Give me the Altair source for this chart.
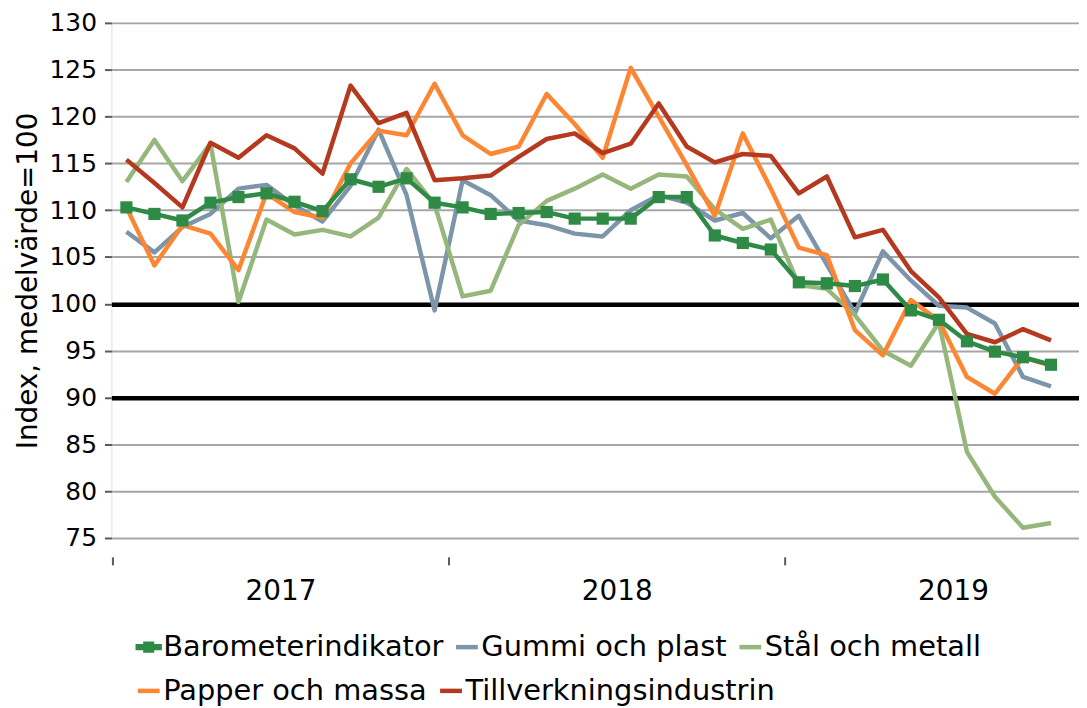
import altair as alt
import pandas as pd

# ---- data ----
months = [f"{y}-{m:02d}" for y in (2017, 2018, 2019) for m in range(1, 13)][:34]
year_labels = ["2017", "2018", "2019"]

series_names = ["Barometerindikator", "Gummi och plast", "Stål och metall",
                "Papper och massa", "Tillverkningsindustrin"]

barometer = [110.3, 109.6, 108.9, 110.8, 111.4, 111.8, 110.9, 109.9, 113.3, 112.5,
             113.4, 110.8, 110.3, 109.6, 109.7, 109.8, 109.1, 109.1, 109.1, 111.4,
             111.4, 107.3, 106.5, 105.8, 102.3, 102.2, 101.9, 102.6, 99.3, 98.3,
             96.0, 94.9, 94.3, 93.5]
gummi = [107.7, 105.5, 108.2, 109.6, 112.3, 112.7, 110.5, 108.8, 112.6, 118.6,
         111.6, 99.3, 113.2, 111.6, 108.9, 108.4, 107.5, 107.2, 110.0, 111.6,
         110.8, 108.9, 109.7, 107.0, 109.4, 104.2, 99.0, 105.6, 102.5, 99.8,
         99.6, 97.9, 92.2, 91.2]
stal = [113.0, 117.5, 113.1, 117.1, 100.2, 109.0, 107.4, 107.9, 107.2, 109.2,
        114.4, 110.6, 100.8, 101.4, 108.4, 111.0, 112.3, 113.8, 112.3, 113.8,
        113.6, 110.1, 108.0, 109.0, 102.0, 101.6, 98.8, 95.0, 93.4, 98.0,
        84.2, 79.4, 76.1, 76.6]
papper = [110.3, 104.1, 108.4, 107.5, 103.6, 111.8, 109.8, 109.2, 115.0, 118.5,
          118.0, 123.5, 118.0, 116.0, 116.8, 122.4, 119.2, 115.6, 125.2, 120.0,
          114.8, 109.4, 118.2, 112.3, 106.0, 105.2, 97.2, 94.5, 100.4, 98.2,
          92.2, 90.4, 94.3, 93.4]
tillverkning = [115.4, 112.9, 110.3, 117.2, 115.6, 118.0, 116.6, 113.9, 123.3, 119.3,
                120.4, 113.2, 113.4, 113.7, 115.7, 117.6, 118.2, 116.1, 117.1, 121.4,
                116.8, 115.1, 116.0, 115.8, 111.8, 113.6, 107.1, 107.9, 103.5, 100.7,
                96.8, 95.9, 97.3, 96.1]

y_ticks = list(range(75, 131, 5))

row1_domain = ["Barometerindikator", "Gummi och plast", "Stål och metall"]
row1_colors = ["#2e8a45", "#7d95aa", "#95b77b"]
row2_domain = ["Papper och massa", "Tillverkningsindustrin"]
row2_colors = ["#fd8633", "#b5391f"]

rows = []
for name, vals in zip(series_names, [barometer, gummi, stal, papper, tillverkning]):
    for k, (m, v) in enumerate(zip(months, vals)):
        rows.append({"series": name, "month": m, "idx": k, "value": v})
df = pd.DataFrame(rows)

FONT = "DejaVu Sans"
LW = 4.5

x_enc = alt.X(
    "idx:Q",
    title=None,
    scale=alt.Scale(domain=[-0.535, 34.0], nice=False, zero=False),
    axis=alt.Axis(
        values=[-0.5, 5.5, 11.5, 17.5, 23.5, 29.5],
        labelExpr="datum.value == 5.5 ? '2017' : datum.value == 17.5 ? '2018' : datum.value == 29.5 ? '2019' : ''",
        tickColor={"condition": {"test": "datum.value == 5.5 || datum.value == 17.5 || datum.value == 29.5",
                                 "value": "transparent"}, "value": "#595959"},
        tickSize=8, tickWidth=2, domain=False, grid=False, offset=19,
        labelFontSize=28, labelPadding=13, labelColor="#000000", labelFont=FONT,
        labelFlush=False, labelOverlap=False,
    ),
)
y_enc = alt.Y(
    "value:Q",
    title="Index, medelvärde=100",
    scale=alt.Scale(domain=[75, 130], nice=False, zero=False),
    axis=alt.Axis(
        values=y_ticks,
        domain=False,
        tickSize=7, tickWidth=2, tickColor="#595959",
        gridColor={"condition": {"test": "datum.value == 100 || datum.value == 90", "value": "#000000"},
                   "value": "#a6a6a6"},
        gridWidth={"condition": {"test": "datum.value == 100 || datum.value == 90", "value": 4.5},
                   "value": 2},
        labelFontSize=25, labelPadding=8, labelColor="#000000", labelFont=FONT,
        titleFontSize=28, titleFont=FONT, titleFontWeight="normal", titleColor="#000000",
        titlePadding=7,
    ),
)

legend_common = dict(
    orient="none", direction="horizontal", title=None,
    labelFont=FONT, labelFontSize=29, labelColor="#000000", labelLimit=0,
    symbolSize=484, symbolStrokeWidth=LW, labelOffset=0, columnPadding=3, padding=0,
)
legend1 = alt.Legend(
    legendX=23, legendY=613,
    symbolType={"expr": "datum.value == 'Barometerindikator' ? 'M-1,-0.09H1V0.09H-1Z M-0.3,-0.3H0.3V0.3H-0.3Z' : 'stroke'"},
    **legend_common,
)
legend2 = alt.Legend(legendX=23, legendY=657, symbolType="stroke", **legend_common)

color1 = alt.Color("series:N", scale=alt.Scale(domain=row1_domain, range=row1_colors), legend=legend1)
stroke2 = alt.Stroke("series:N", scale=alt.Scale(domain=row2_domain, range=row2_colors), legend=legend2)

base = alt.Chart(df)

layer_a = base.transform_filter(
    alt.FieldOneOfPredicate(field="series", oneOf=["Gummi och plast", "Stål och metall"])
).mark_line(strokeWidth=LW, strokeJoin="round").encode(x=x_enc, y=y_enc, color=color1, detail="series:N")

layer_b = base.transform_filter(
    alt.FieldOneOfPredicate(field="series", oneOf=row2_domain)
).mark_line(strokeWidth=LW, strokeJoin="round").encode(x=x_enc, y=y_enc, stroke=stroke2, detail="series:N")

layer_c = base.transform_filter(
    alt.FieldEqualPredicate(field="series", equal="Barometerindikator")
).mark_line(strokeWidth=LW, strokeJoin="round").encode(x=x_enc, y=y_enc, color=color1)

layer_d = base.transform_filter(
    alt.FieldEqualPredicate(field="series", equal="Barometerindikator")
).mark_point(shape="square", filled=True, size=150, opacity=1, color="#2e8a45").encode(x=x_enc, y=y_enc)

chart = alt.layer(layer_a, layer_b, layer_c, layer_d).properties(
    width=973, height=518,
    autosize=alt.AutoSizeParams(type="none"),
    padding={"left": 104, "top": 13, "right": 0, "bottom": 169},
).configure_view(stroke=None).configure(background="white")

chart.save("out.html", embed_options={"renderer": "svg", "actions": False})
